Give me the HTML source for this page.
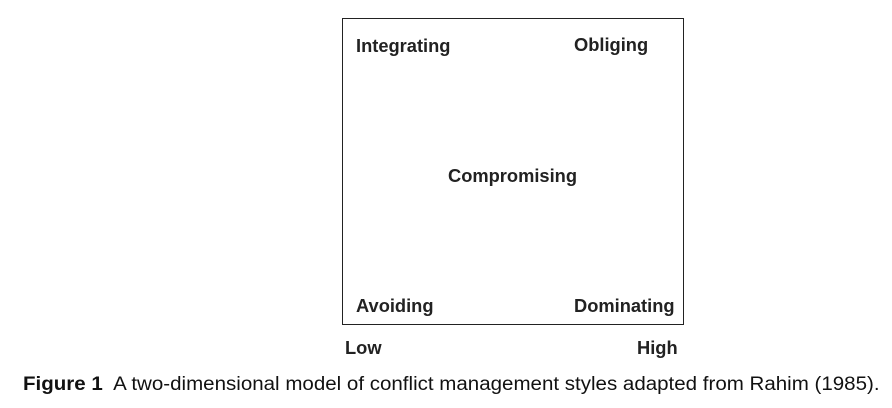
<!DOCTYPE html>
<html><head><style>
body{margin:0;width:892px;height:408px;background:#fff;position:relative;overflow:hidden;font-family:"Liberation Sans",Arial,sans-serif;color:#222}
.box{position:absolute;left:342px;top:18px;width:340px;height:305px;border:1.5px solid #222}
.l{position:absolute;font-weight:bold;font-size:18.3px;line-height:20px;white-space:nowrap}
.cap{position:absolute;left:23px;top:374px;font-size:19px;white-space:nowrap;transform:scaleX(1.08);transform-origin:left top;color:#111}
</style></head><body>
<div class="box"></div>
<div class="l" style="left:356px;top:36px">Integrating</div>
<div class="l" style="left:574px;top:35px">Obliging</div>
<div class="l" style="left:448px;top:166px">Compromising</div>
<div class="l" style="left:356px;top:296px">Avoiding</div>
<div class="l" style="left:574px;top:296px">Dominating</div>
<div class="l" style="left:345px;top:338px">Low</div>
<div class="l" style="left:637px;top:338px">High</div>
<div class="cap"><b>Figure 1</b>&nbsp; A two-dimensional model of conflict management styles adapted from Rahim (1985).</div>
</body></html>
